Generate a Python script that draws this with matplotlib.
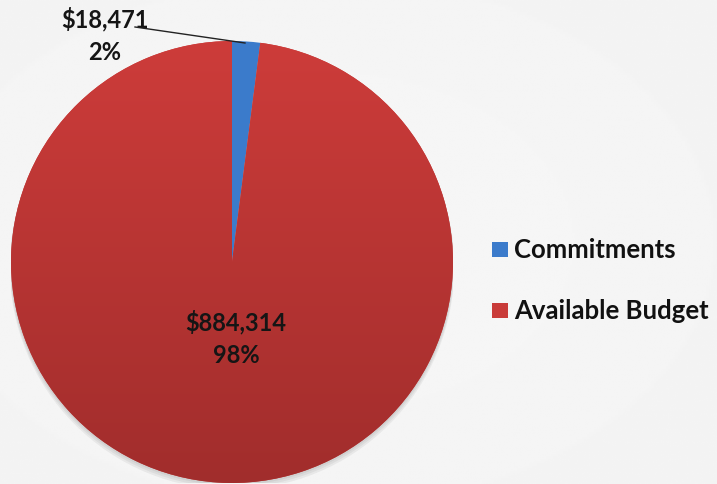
import matplotlib
matplotlib.use("Agg")
import matplotlib.pyplot as plt
import numpy as np
from matplotlib.patches import Rectangle, Circle
from matplotlib.colors import LinearSegmentedColormap

categories = ["Commitments", "Available Budget"]
values = [18471, 884314]
value_labels = ["$18,471", "$884,314"]
pct_labels = ["2%", "98%"]
colors = ["#3B7BCB", "#C93B39"]

plt.rcParams['font.family'] = ['Lato', 'DejaVu Sans']

W, H = 717, 485
fig = plt.figure(figsize=(W/100, H/100), dpi=100)
fig.patch.set_facecolor("#f3f3f3")

# background subtle radial gradient
bg = fig.add_axes([0, 0, 1, 1])
yy, xx = np.mgrid[0:1:200j, 0:1:300j]
r = np.sqrt((xx-0.45)**2 + (yy-0.5)**2)
bg.imshow(0.968 - 0.02*r, cmap="gray", vmin=0, vmax=1, extent=[0, 1, 0, 1], aspect="auto")
bg.axis("off")

cx, cy, R = 232, 263, 221
ax = fig.add_axes([(cx-R)/W, (H-cy-R)/H, 2*R/W, 2*R/H])
ax.set_facecolor("none")

# soft shadow
for k, a in enumerate([0.05, 0.05, 0.05]):
    ax.add_patch(Circle((0, -0.008*(k+1)), 1 + 0.002*(k+1), color="black", alpha=a, lw=0, zorder=0.5))

wedges, _ = ax.pie(values, colors=colors, startangle=90, counterclock=False,
                   radius=1, wedgeprops=dict(linewidth=0))

# vertical gradient on the red wedge
grad = np.linspace(0, 1, 256).reshape(-1, 1)
cmap = LinearSegmentedColormap.from_list("r", ["#CD3C3A", "#A12D2C"])
im = ax.imshow(grad, cmap=cmap, extent=[-1, 1, -1, 1], origin="upper", aspect="auto", zorder=1.5)
im.set_clip_path(wedges[1])
ax.set_xlim(-1, 1)
ax.set_ylim(-1, 1)
ax.set_aspect("equal")
ax.axis("off")

def px(x, y):
    return ((x-cx)/R, (cy-y)/R)

# inside label
ax.text(*px(236, 322), value_labels[1], ha="center", va="center",
        fontsize=17, fontweight="bold", color="#151515", zorder=3)
ax.text(*px(236, 356), pct_labels[1], ha="center", va="center",
        fontsize=17, fontweight="bold", color="#151515", zorder=3)

# outside label with leader line
ax.text(*px(105, 19), value_labels[0], ha="center", va="center",
        fontsize=17, fontweight="bold", color="#151515", zorder=3, clip_on=False)
ax.text(*px(105, 52), pct_labels[0], ha="center", va="center",
        fontsize=17, fontweight="bold", color="#151515", zorder=3, clip_on=False)
x0, y0 = px(135, 28)
x1, y1 = px(245, 44)
ax.plot([x0, x1], [y0, y1], color="#222222", lw=1, zorder=3, clip_on=False)

# legend
for i, (lab, col) in enumerate(zip(categories, colors)):
    ly = 250 + i*61
    fig.patches.append(Rectangle((492/W, (H-ly-8)/H), 16/W, 15/H, transform=fig.transFigure,
                                 facecolor=col, edgecolor="none"))
    fig.text(514/W, (H-ly)/H, lab, ha="left", va="center", fontsize=18.5,
             fontweight="bold", color="#111111")

fig.savefig("out.png", dpi=100, facecolor=fig.get_facecolor())
